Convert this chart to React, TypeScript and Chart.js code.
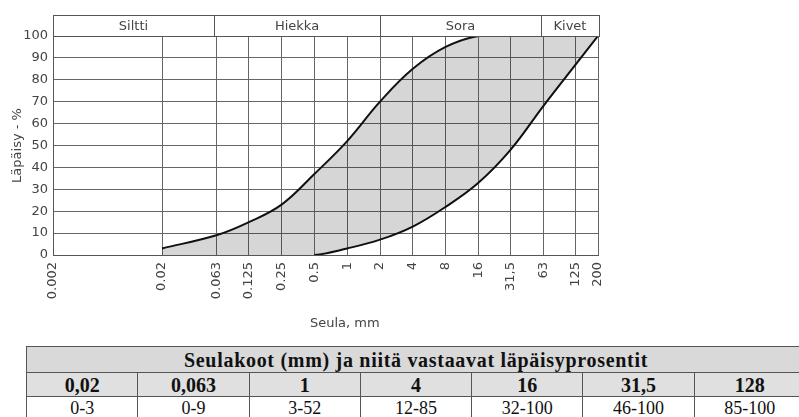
import React, { useEffect, useRef } from "react";
import { Chart, registerables } from "chart.js";

Chart.register(...registerables);

// Sieve sizes (mm) on the x axis
const xTicks = [0.002, 0.02, 0.063, 0.125, 0.25, 0.5, 1, 2, 4, 8, 16, 31.5, 63, 125, 200];
const xTickLabels = ["0.002", "0.02", "0.063", "0.125", "0.25", "0.5", "1", "2", "4", "8", "16", "31,5", "63", "125", "200"];

// Grading envelope
const sieves = [0.02, 0.063, 0.125, 0.25, 0.5, 1, 2, 4, 8, 16, 31.5, 63, 125, 200];
const upperLimit = [3, 9, 15, 23, 37, 52, 70, 85, 95, 100, 100, 100, 100, 100];
const lowerLimit = [0, 0, 0, 0, 0, 3, 7, 13, 22, 33, 48, 68, 87, 100];

// Soil class bands
const zoneEdges = [0.002, 0.06, 2, 60, 200];
const zoneNames = ["Siltti", "Hiekka", "Sora", "Kivet"];

// Table
const tableTitle = "Seulakoot (mm) ja niitä vastaavat läpäisyprosentit";
const tableSieves = ["0,02", "0,063", "1", "4", "16", "31,5", "128"];
const tableRanges = ["0-3", "0-9", "3-52", "12-85", "32-100", "46-100", "85-100"];

const FONT = "'DejaVu Sans', Verdana, sans-serif";
const TEXT = "#444";
const GRID = "#666";

const headerPlugin = {
  id: "headerBand",
  afterDraw(chart: any) {
    const { ctx, chartArea } = chart;
    const xs = chart.scales.x;
    const top = chartArea.top - 21;
    const bottom = chartArea.top;
    ctx.save();
    ctx.strokeStyle = "#555";
    ctx.lineWidth = 1;
    const left = xs.getPixelForValue(zoneEdges[0]);
    const right = xs.getPixelForValue(zoneEdges[zoneEdges.length - 1]) + 1;
    ctx.strokeRect(Math.round(left) + 0.5, Math.round(top) + 0.5, Math.round(right - left), Math.round(bottom - top));
    ctx.font = `13px ${FONT}`;
    ctx.fillStyle = TEXT;
    ctx.textAlign = "center";
    ctx.textBaseline = "middle";
    for (let i = 0; i < zoneNames.length; i++) {
      const a = i === 0 ? left : xs.getPixelForValue(zoneEdges[i]);
      const b = i === zoneNames.length - 1 ? right : xs.getPixelForValue(zoneEdges[i + 1]);
      if (i > 0) {
        ctx.beginPath();
        ctx.moveTo(Math.round(a) + 0.5, top);
        ctx.lineTo(Math.round(a) + 0.5, bottom);
        ctx.stroke();
      }
      ctx.fillText(zoneNames[i], (a + b) / 2, (top + bottom) / 2 + 1);
    }
    // x axis title
    ctx.fillText("Seula, mm", xs.getPixelForValue(0.95), chartArea.bottom + 69);
    ctx.restore();
  },
};

export default function App() {
  const ref = useRef<HTMLCanvasElement>(null);

  useEffect(() => {
    if (!ref.current) return;
    const hide = (c: any) =>
      (c.p0.parsed.y === 0 && c.p1.parsed.y === 0) || (c.p0.parsed.y === 100 && c.p1.parsed.y === 100)
        ? "rgba(0,0,0,0)"
        : "#111";
    const chart = new Chart(ref.current, {
      type: "line",
      data: {
        datasets: [
          {
            label: "Yläraja",
            data: sieves.map((x, i) => ({ x, y: upperLimit[i] })),
            borderColor: "#111",
            borderWidth: 2,
            pointRadius: 0,
            tension: 0.4,
            fill: "+1",
            backgroundColor: "rgba(0,0,0,0.16)",
            segment: { borderColor: hide },
          },
          {
            label: "Alaraja",
            data: sieves.map((x, i) => ({ x, y: lowerLimit[i] })),
            borderColor: "#111",
            borderWidth: 2,
            pointRadius: 0,
            tension: 0.4,
            fill: false,
            segment: { borderColor: hide },
          },
        ],
      },
      options: {
        animation: false,
        responsive: false,
        devicePixelRatio: 1,
        layout: { padding: { left: 0, right: 201, top: 36, bottom: 0 } },
        plugins: { legend: { display: false }, tooltip: { enabled: false } },
        scales: {
          x: {
            type: "logarithmic",
            min: 0.002,
            max: 200,
            afterBuildTicks: (s: any) => {
              s.ticks = xTicks.map((v) => ({ value: v }));
            },
            afterFit: (s: any) => {
              s.height = 85;
            },
            ticks: {
              autoSkip: false,
              minRotation: 90,
              maxRotation: 90,
              padding: 7,
              color: TEXT,
              font: { family: FONT, size: 13 },
              callback: (_v: any, i: number) => xTickLabels[i],
            },
            grid: { color: GRID, drawTicks: false },
            border: { color: "#555" },
          },
          y: {
            min: 0,
            max: 100,
            afterFit: (s: any) => {
              s.width = 53;
            },
            ticks: {
              stepSize: 10,
              padding: 5,
              color: TEXT,
              font: { family: FONT, size: 13 },
            },
            grid: { color: GRID, drawTicks: false },
            border: { color: "#555" },
            title: {
              display: true,
              text: "Läpäisy - %",
              color: TEXT,
              font: { family: FONT, size: 13 },
              padding: { top: 10, bottom: 0 },
            },
          },
        },
      },
      plugins: [headerPlugin],
    } as any);
    return () => chart.destroy();
  }, []);

  const cell: React.CSSProperties = {
    border: "1px solid #555",
    textAlign: "center",
    padding: 0,
    width: 111,
    lineHeight: "20px",
  };

  return (
    <div style={{ position: "absolute", left: 0, top: 0, width: 799, height: 417, overflow: "hidden", background: "#fff" }}>
      <canvas ref={ref} width={799} height={340} style={{ position: "absolute", left: 0, top: 0, width: 799, height: 340 }} />
      <table
        style={{
          position: "absolute",
          left: 26,
          top: 346,
          width: 780,
          borderCollapse: "collapse",
          tableLayout: "fixed",
          fontFamily: "'Liberation Serif', 'Times New Roman', serif",
          color: "#111",
        }}
      >
        <tbody>
          <tr style={{ height: 26, background: "#d9d9d9" }}>
            <td colSpan={7} style={{ ...cell, fontWeight: "bold", fontSize: 20, letterSpacing: 0.7 }}>
              {tableTitle}
            </td>
          </tr>
          <tr style={{ height: 24, background: "#e0e0e0" }}>
            {tableSieves.map((s) => (
              <td key={s} style={{ ...cell, fontWeight: "bold", fontSize: 20 }}>
                {s}
              </td>
            ))}
          </tr>
          <tr style={{ height: 23, background: "#fff" }}>
            {tableRanges.map((s) => (
              <td key={s} style={{ ...cell, fontSize: 18 }}>
                {s}
              </td>
            ))}
          </tr>
        </tbody>
      </table>
    </div>
  );
}
